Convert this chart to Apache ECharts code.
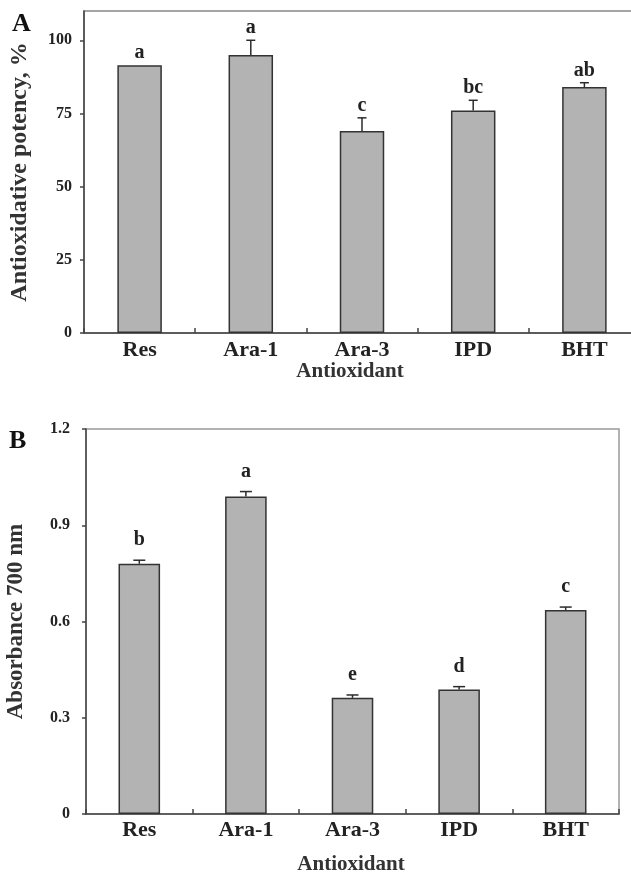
<!DOCTYPE html>
<html>
<head>
<meta charset="utf-8">
<script src="https://cdn.jsdelivr.net/npm/echarts@6/dist/echarts.min.js"></script>
<style>
html,body{margin:0;padding:0;background:#fff;}
#chart{width:631px;height:876px;}
</style>
</head>
<body>
<div id="chart"></div>
<script>
const categories = ['Res', 'Ara-1', 'Ara-3', 'IPD', 'BHT'];
const potency = [91.5, 95, 69, 76, 84];
const potencyErr = [0, 5, 4.5, 3.5, 1.5];
const potencyLetters = ['a', 'a', 'c', 'bc', 'ab'];
const potencyTicks = [0, 25, 50, 75, 100];
const absorbance = [0.78, 0.99, 0.362, 0.388, 0.636];
const absorbanceErr = [0.011, 0.015, 0.009, 0.009, 0.009];
const absorbanceLetters = ['b', 'a', 'e', 'd', 'c'];
const absorbanceTicks = [0, 0.3, 0.6, 0.9, 1.2];

const FONT = "'Liberation Serif', 'Times New Roman', serif";
const INK = '#2b2b2b';

function errData(vals, errs) {
  return vals.map((v, i) => [i, v, errs[i]]);
}

function errRenderer(letters, capHalf, labelOffset) {
  return function (params, api) {
    const i = api.value(0), v = api.value(1), e = api.value(2);
    const base = api.coord([i, v]);
    const top = api.coord([i, v + e]);
    const children = [];
    if (e > 0) {
      children.push({
        type: 'line',
        shape: { x1: top[0], y1: base[1], x2: top[0], y2: top[1] },
        style: { stroke: INK, lineWidth: 1.5 }
      });
      children.push({
        type: 'line',
        shape: { x1: top[0] - capHalf, y1: top[1], x2: top[0] + capHalf, y2: top[1] },
        style: { stroke: INK, lineWidth: 1.5 }
      });
    }
    children.push({
      type: 'text',
      style: {
        text: letters[i], x: top[0], y: top[1] - labelOffset,
        align: 'center', verticalAlign: 'middle',
        font: 'bold 20px ' + FONT, fill: '#222'
      }
    });
    return { type: 'group', children: children };
  };
}

const chart = echarts.init(document.getElementById('chart'), null, { renderer: 'canvas' });

const catAxisCommon = {
  type: 'category',
  data: categories,
  boundaryGap: true,
  axisLine: { lineStyle: { color: '#444', width: 1.5 } },
  axisTick: { show: true, inside: true, length: 5, alignWithLabel: false, lineStyle: { color: '#444', width: 1.5 } },
  axisLabel: { fontFamily: FONT, fontWeight: 'bold', fontSize: 22, color: '#222', margin: 6 },
  splitLine: { show: false }
};

const valAxisCommon = {
  type: 'value',
  min: 0,
  axisLine: { show: true, lineStyle: { color: '#444', width: 1.5 } },
  axisTick: { show: true, length: 4, lineStyle: { color: '#444', width: 1.5 } },
  splitLine: { show: false }
};

chart.setOption({
  animation: false,
  backgroundColor: '#fff',
  grid: [
    { left: 84, top: 11, width: 556, height: 322, outerBoundsMode: 'none', containLabel: false, show: true, borderColor: '#888', borderWidth: 1.5, backgroundColor: 'transparent' },
    { left: 86, top: 429, width: 533, height: 385, outerBoundsMode: 'none', containLabel: false, show: true, borderColor: '#999', borderWidth: 1.5, backgroundColor: 'transparent' }
  ],
  xAxis: [
    Object.assign({}, catAxisCommon, { gridIndex: 0 }),
    Object.assign({}, catAxisCommon, { gridIndex: 1, axisLabel: Object.assign({}, catAxisCommon.axisLabel, { margin: 5 }) })
  ],
  yAxis: [
    Object.assign({}, valAxisCommon, {
      gridIndex: 0, max: 110, interval: 25,
      axisTick: Object.assign({}, valAxisCommon.axisTick, { customValues: potencyTicks }),
      axisLabel: { customValues: potencyTicks, fontFamily: FONT, fontWeight: 'bold', fontSize: 16, color: '#222', margin: 12 },
      name: 'Antioxidative potency, %', nameLocation: 'middle', nameGap: 52, nameRotate: 90,
      nameTextStyle: { fontFamily: FONT, fontWeight: 'bold', fontSize: 24, color: '#333' }
    }),
    Object.assign({}, valAxisCommon, {
      gridIndex: 1, max: 1.2, interval: 0.3,
      axisTick: Object.assign({}, valAxisCommon.axisTick, { customValues: absorbanceTicks }),
      axisLabel: { customValues: absorbanceTicks, fontFamily: FONT, fontWeight: 'bold', fontSize: 16, color: '#222', margin: 16 },
      name: 'Absorbance 700 nm', nameLocation: 'middle', nameGap: 58, nameRotate: 90,
      nameTextStyle: { fontFamily: FONT, fontWeight: 'bold', fontSize: 23, color: '#333' }
    })
  ],
  graphic: [
    { type: 'text', left: 12, top: 11, style: { text: 'A', font: 'bold 26px ' + FONT, fill: '#111' } },
    { type: 'text', left: 9, top: 428, style: { text: 'B', font: 'bold 26px ' + FONT, fill: '#111' } },
    { type: 'text', x: 350, y: 372, style: { text: 'Antioxidant', align: 'center', verticalAlign: 'middle', font: 'bold 21px ' + FONT, fill: '#333' } },
    { type: 'text', x: 351, y: 865, style: { text: 'Antioxidant', align: 'center', verticalAlign: 'middle', font: 'bold 21px ' + FONT, fill: '#333' } }
  ],
  series: [
    {
      type: 'bar', xAxisIndex: 0, yAxisIndex: 0, data: potency, barWidth: '40%',
      itemStyle: { color: '#b3b3b3', borderColor: '#333', borderWidth: 1.5 }
    },
    {
      type: 'custom', xAxisIndex: 0, yAxisIndex: 0, data: errData(potency, potencyErr),
      renderItem: errRenderer(potencyLetters, 4.5, 12), z: 3
    },
    {
      type: 'bar', xAxisIndex: 1, yAxisIndex: 1, data: absorbance, barWidth: '39%',
      itemStyle: { color: '#b3b3b3', borderColor: '#333', borderWidth: 1.5 }
    },
    {
      type: 'custom', xAxisIndex: 1, yAxisIndex: 1, data: errData(absorbance, absorbanceErr),
      renderItem: errRenderer(absorbanceLetters, 6, 20), z: 3
    }
  ]
});
</script>
</body>
</html>
